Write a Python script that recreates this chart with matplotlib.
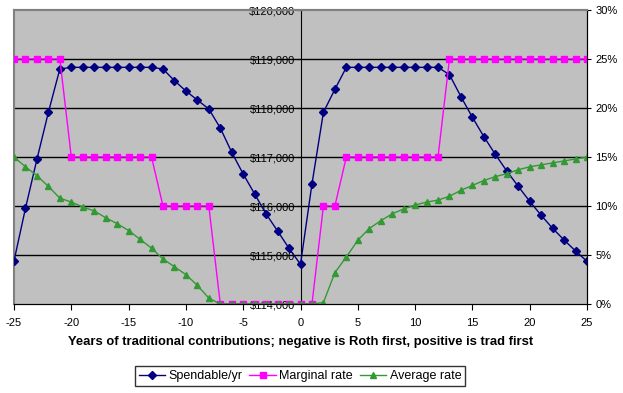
import matplotlib.pyplot as plt
from matplotlib.ticker import FuncFormatter, MultipleLocator

plt.rcParams['font.family'] = ['Liberation Sans', 'DejaVu Sans']
plt.rcParams['axes.unicode_minus'] = False

years = list(range(-25, 26))

spendable = [114878, 115952, 116952, 117912, 118796, 118830, 118830, 118830, 118830,
             118830, 118830, 118830, 118830, 118796, 118558, 118347, 118163, 117980,
             117592, 117095, 116653, 116245, 115837, 115490, 115136, 114810,
             116449, 117912, 118381, 118830, 118830, 118830, 118830, 118830, 118830,
             118830, 118830, 118830, 118680, 118231, 117810, 117415, 117054, 116714,
             116401, 116095, 115810, 115544, 115306, 115082, 114871]

marginal = [25, 25, 25, 25, 25, 15, 15, 15, 15, 15, 15, 15, 15, 10, 10, 10, 10, 10,
            0, 0, 0, 0, 0, 0, 0, 0, 0, 10, 10, 15, 15, 15, 15, 15, 15, 15, 15, 15,
            25, 25, 25, 25, 25, 25, 25, 25, 25, 25, 25, 25, 25]

average = [15.0, 14.0, 13.1, 12.0, 10.8, 10.4, 9.9, 9.5, 8.8, 8.2, 7.5, 6.6, 5.7,
           4.6, 3.8, 3.0, 1.9, 0.6, 0, 0, 0, 0, 0, 0, 0, 0, 0, 0.15, 3.2, 4.8,
           6.5, 7.7, 8.5, 9.2, 9.7, 10.1, 10.4, 10.6, 11.0, 11.6, 12.1, 12.6, 13.0,
           13.3, 13.7, 14.0, 14.2, 14.4, 14.6, 14.8, 15.0]

fig = plt.figure(figsize=(6.23, 3.93), dpi=100)
ax = fig.add_axes([14 / 623, 1 - 304 / 393, (587 - 14) / 623, (304 - 10) / 393])
ax.set_facecolor('#C0C0C0')
ax2 = ax.twinx()

# gridlines every 5% / $1000
for g in [1, 2, 3, 4, 5]:
    ax.axhline(114000 + g * 1000, color='black', lw=1, zorder=0.5)

ax.plot(years, spendable, color='#000080', marker='D', markersize=4, lw=1,
        label='Spendable/yr', zorder=3)
ax2.plot(years, [m / 100 for m in marginal], color='#FF00FF', marker='s',
         markersize=5, lw=1, label='Marginal rate', zorder=2)
ax2.plot(years, [a / 100 for a in average], color='#339933', marker='^',
         markersize=5, lw=1, label='Average rate', zorder=2)

ax.set_xlim(-25, 25)
ax.set_ylim(114000, 120000)
ax2.set_ylim(0, 0.30)
ax.xaxis.set_major_locator(MultipleLocator(5))
ax.yaxis.set_major_locator(MultipleLocator(1000))
ax2.yaxis.set_major_locator(MultipleLocator(0.05))
ax.yaxis.set_major_formatter(FuncFormatter(lambda v, p: '${:,.0f}'.format(v)))
ax2.yaxis.set_major_formatter(FuncFormatter(lambda v, p: '{:.0f}%'.format(v * 100)))

ax.spines['left'].set_position(('data', 0))
ax.spines['left'].set_color('black')
ax.spines['top'].set_color('#808080')
ax.spines['top'].set_linewidth(1.5)
ax.axvline(-25, color='#808080', lw=1.5, clip_on=False, zorder=0.6)
ax2.spines['left'].set_visible(False)
ax2.spines['top'].set_color('#808080')
ax2.spines['top'].set_linewidth(1.5)

ax.tick_params(axis='y', labelsize=8, length=3, pad=1, labelcolor='black')
ax.tick_params(axis='x', labelsize=8, length=4, pad=6)
ax2.tick_params(axis='y', labelsize=8, length=3, pad=3)

ax.set_xlabel('Years of traditional contributions; negative is Roth first, positive is trad first',
              fontsize=9.4, fontweight='bold', labelpad=6)

h1, l1 = ax.get_legend_handles_labels()
h2, l2 = ax2.get_legend_handles_labels()
leg = fig.legend(h1 + h2, l1 + l2, loc='center', bbox_to_anchor=(300 / 623, 1 - 376 / 393),
                 ncol=3, fontsize=9, frameon=True, fancybox=False, edgecolor='black',
                 handlelength=2.1, handletextpad=0.3, columnspacing=0.55, borderpad=0.3,
                 borderaxespad=0)
leg.get_frame().set_linewidth(1)

fig.savefig('out.png', dpi=100)
